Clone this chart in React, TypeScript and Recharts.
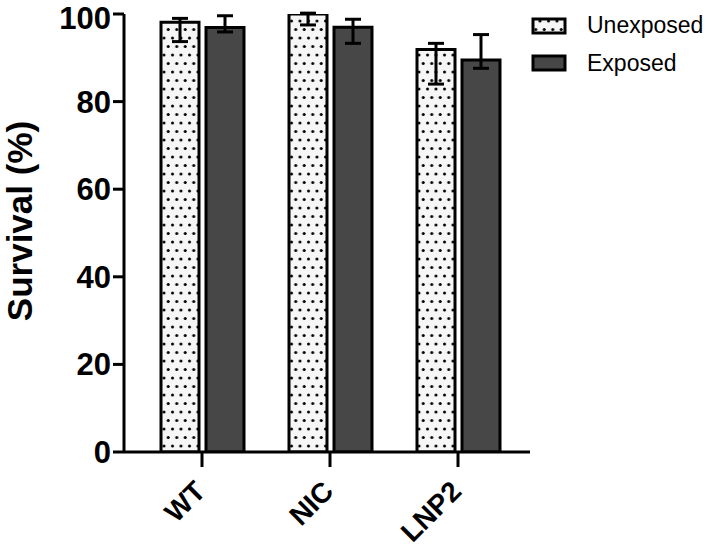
import { BarChart, Bar, XAxis, YAxis, ErrorBar, Legend } from 'recharts';

const categories = ['WT', 'NIC', 'LNP2'];
const unexposed = [98.1, 100, 91.9];
const exposed = [96.9, 97, 89.5];
// [lower, upper] error deltas
const unexposedErr = [[4.4, 0.9], [2.5, 0.2], [7.9, 1.4]];
const exposedErr = [[1.0, 2.7], [3.7, 1.8], [1.9, 5.8]];
const yTicks = [0, 20, 40, 60, 80, 100];

const FONT = '"Liberation Sans", Arial, Helvetica, sans-serif';
const DARK = '#474747';
const LIGHT = '#f6f6f6';

if (typeof document !== 'undefined') document.body.style.margin = '0';

const data = categories.map((name, i) => ({
  name,
  unexposed: unexposed[i],
  exposed: exposed[i],
  uErr: unexposedErr[i],
  eErr: exposedErr[i],
}));

function DotPattern({ id }: { id: string }) {
  return (
    <pattern id={id} patternUnits="userSpaceOnUse" width={8.5} height={17}>
      <rect width={8.5} height={17} fill={LIGHT} />
      <circle cx={2.5} cy={4} r={1.5} fill="#000" />
      <circle cx={6.75} cy={12.5} r={1.5} fill="#000" />
    </pattern>
  );
}

function XTick({ x, y, payload }: any) {
  return (
    <g transform={`translate(${x + 5},${y + 24}) rotate(-45)`}>
      <text textAnchor="end" fontFamily={FONT} fontWeight="bold" fontSize={28} fill="#000">
        {payload.value}
      </text>
    </g>
  );
}

function LegendBox() {
  return (
    <svg width={179} height={90}>
      <defs>
        <DotPattern id="dotsLegend" />
      </defs>
      <rect x={4} y={19} width={32} height={14} fill="url(#dotsLegend)" stroke="#000" strokeWidth={3} />
      <text x={58} y={33} fontFamily={FONT} fontSize={23} fill="#000">Unexposed</text>
      <rect x={4} y={56} width={32} height={14} fill={DARK} stroke="#000" strokeWidth={3} />
      <text x={58} y={71} fontFamily={FONT} fontSize={23} fill="#000">Exposed</text>
    </svg>
  );
}

export default function App() {
  return (
    <BarChart
      width={709}
      height={549}
      data={data}
      margin={{ top: 14, right: 179, bottom: 0, left: 0 }}
      barSize={38}
      barGap={7}
    >
      <defs>
        <DotPattern id="dotsBar" />
      </defs>
      <XAxis
        dataKey="name"
        height={97}
        padding={{ left: 14, right: 8 }}
        axisLine={{ stroke: '#000', strokeWidth: 3 }}
        tickLine={{ stroke: '#000', strokeWidth: 3 }}
        tickSize={15}
        tick={<XTick />}
        interval={0}
      />
      <YAxis
        width={124}
        domain={[0, 100]}
        ticks={yTicks}
        allowDataOverflow
        axisLine={{ stroke: '#000', strokeWidth: 3 }}
        tickLine={{ stroke: '#000', strokeWidth: 3 }}
        tickSize={11}
        tickMargin={2}
        tick={{ fontFamily: FONT, fontWeight: 'bold', fontSize: 31, fill: '#000' }}
        label={{
          content: () => (
            <text
              transform="translate(32,221) rotate(-90)"
              textAnchor="middle"
              fontFamily={FONT}
              fontWeight="bold"
              fontSize={35}
              fill="#000"
            >
              Survival (%)
            </text>
          ),
        }}
      />
      <Legend
        layout="horizontal"
        verticalAlign="middle"
        align="center"
        wrapperStyle={{ left: 529, top: 0, width: 179, height: 90 }}
        content={() => <LegendBox />}
      />
      <Bar dataKey="unexposed" fill="url(#dotsBar)" stroke="#000" strokeWidth={3} isAnimationActive={false}>
        <ErrorBar dataKey="uErr" width={8} stroke="#000" strokeWidth={3} isAnimationActive={false} />
      </Bar>
      <Bar dataKey="exposed" fill={DARK} stroke="#000" strokeWidth={3} isAnimationActive={false}>
        <ErrorBar dataKey="eErr" width={8} stroke="#000" strokeWidth={3} isAnimationActive={false} />
      </Bar>
    </BarChart>
  );
}
